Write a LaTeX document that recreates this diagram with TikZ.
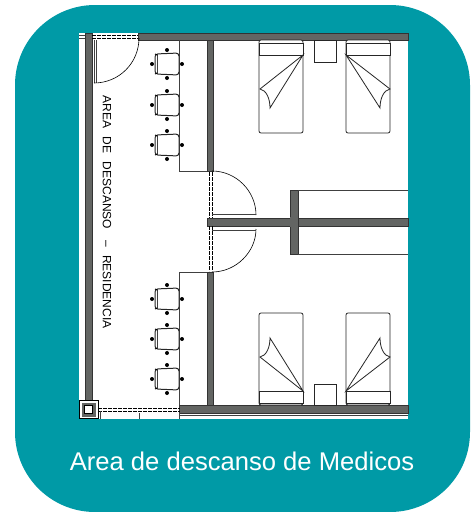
\documentclass[tikz,border=0pt]{standalone}
\usepackage{fontspec}
\setmainfont{Liberation Sans}
\definecolor{tealbg}{HTML}{009AA6}
\definecolor{wallgray}{HTML}{636563}
\tikzset{
	wall/.style={fill=wallgray,draw=black!80,line width=0.4pt},
	thin line/.style={draw=black!75,line width=0.7pt},
	glass/.style={draw=black,line width=0.6pt,dash pattern=on 4pt off 1pt},
	furniture/.style={draw=black!85,line width=0.8pt,fill=white}
}
% silla: centro en (#1,#2)
\newcommand{\chairat}[2]{
	\fill[black] (#1-15,#2) circle (2pt) (#1+15,#2) circle (2pt) (#1,#2-14) circle (2pt) (#1,#2+14) circle (2pt);
	\draw[furniture,line width=1pt,rounded corners=3pt] (#1-12,#2-10) -- (#1+12,#2-11) -- (#1+12,#2+11) -- (#1-12,#2+10) -- cycle;
	\draw[thin line] (#1-9.5,#2-9) -- (#1-9.5,#2+9);
	\draw[black,line width=1pt] (#1-12,#2-10) -- (#1-9.5,#2-9) (#1-12,#2+10) -- (#1-9.5,#2+9);
}
\begin{document}
\begin{tikzpicture}[x=1pt,y=-1pt]
	\useasboundingbox (0,0) rectangle (472,512);
	\fill[white] (0,0) rectangle (472,512);
	\fill[tealbg,rounded corners=80pt] (15,5) rectangle (470,512);
	\fill[white] (79,33) rectangle (408,419);
	% muros
	\draw[wall] (138,33.5) rectangle (408,40.5);
	\draw[wall] (85,33) rectangle (92,400);
	\draw[wall] (207,40) rectangle (213,171);
	\draw[wall] (207,272) rectangle (213,405);
	\draw[wall] (207,218) rectangle (408,226);
	\draw[wall] (290,190) rectangle (298,254);
	\draw[wall] (179.5,405) rectangle (408,413);
	\draw[thin line] (179.5,415) -- (408,415);
	\fill[wallgray] (290.4,217) rectangle (297.6,227);
	% columna
	\draw[draw=black,line width=0.7pt,fill=white] (79,400) rectangle (98,418);
	\draw[draw=wallgray,line width=3pt,fill=white] (83,404) rectangle (94,415);
	\draw[draw=black,line width=0.9pt] (84.5,405.5) rectangle (92.5,413.5);
	% ventanas y puertas
	\draw[thin line] (79,35) -- (85,35) (79,38.5) -- (85,38.5);
	\foreach \yy in {35,38.5} \draw[glass] (92,\yy) -- (138,\yy);
	\foreach \yy in {408,411} \draw[glass] (98,\yy) -- (180,\yy);
	\draw[thin line] (100,411) -- (100,419) (179,413) -- (179,419);
	\draw[thin line] (139,413) -- (139,419);
	\foreach \xx in {209,212} {
		\draw[glass] (\xx,172) -- (\xx,218);
		\draw[glass] (\xx,226) -- (\xx,271);
	}
	\draw[thin line] (94,40) -- (94,83) (96,40) -- (96,83);
	\draw[black,line width=0.6pt] (94,83) .. controls (119,83) and (139,63) .. (139,38);
	\draw[black,line width=0.6pt] (212,171) .. controls (236,171) and (256,191) .. (256,215);
	\draw[black,line width=0.6pt] (256,229) .. controls (256,252) and (236,272) .. (212,272);
	\draw[thin line] (212,214) -- (256,214) (212,230) -- (256,230);
	% divisiones
	\draw[thin line] (179.5,40) -- (179.5,171) -- (207,171);
	\draw[thin line] (179.5,405) -- (179.5,272) -- (207,272);
	\draw[thin line] (298,190) -- (408,190) (298,254) -- (408,254);
	% sillas
	\foreach \yy in {64,105,145,299,339,379} \chairat{167}{\yy};
	% camas arriba
	\foreach \xa/\xb in {259/303,346/390} {
		\draw[furniture,rounded corners=2pt] (\xa,40) rectangle (\xb,133);
		\draw[furniture] (\xa,43) rectangle (\xb,55);
	}
	\draw[furniture] (303,55) -- (260,89) .. controls (266,90) and (270,98) .. (270,108) -- cycle;
	\draw[furniture] (346,55) -- (390,89) .. controls (384,90) and (380,98) .. (380,108) -- cycle;
	\draw[furniture] (314,40) rectangle (336,62);
	% camas abajo
	\foreach \xa/\xb in {259/303,346/390} {
		\draw[furniture,rounded corners=2pt] (\xa,313) rectangle (\xb,405);
		\draw[furniture] (\xa,391) rectangle (\xb,403);
	}
	\draw[furniture] (303,391) -- (260,357) .. controls (266,356) and (270,348) .. (270,338) -- cycle;
	\draw[furniture] (346,391) -- (390,357) .. controls (384,356) and (380,348) .. (380,338) -- cycle;
	\draw[furniture] (314,384) rectangle (336,405);
	% textos
	\node[rotate=-90,font=\fontsize{12}{14}\selectfont] (area) at (107,212) {AREA\hspace{8.5pt}DE\hspace{8.5pt}DESCANSO\hspace{11pt}--\hspace{8.5pt}RESIDENCIA};
	\node[text=white,font=\fontsize{25.6}{28}\selectfont] (caption) at (242,461) {Area de descanso de Medicos};
\end{tikzpicture}
\end{document}
